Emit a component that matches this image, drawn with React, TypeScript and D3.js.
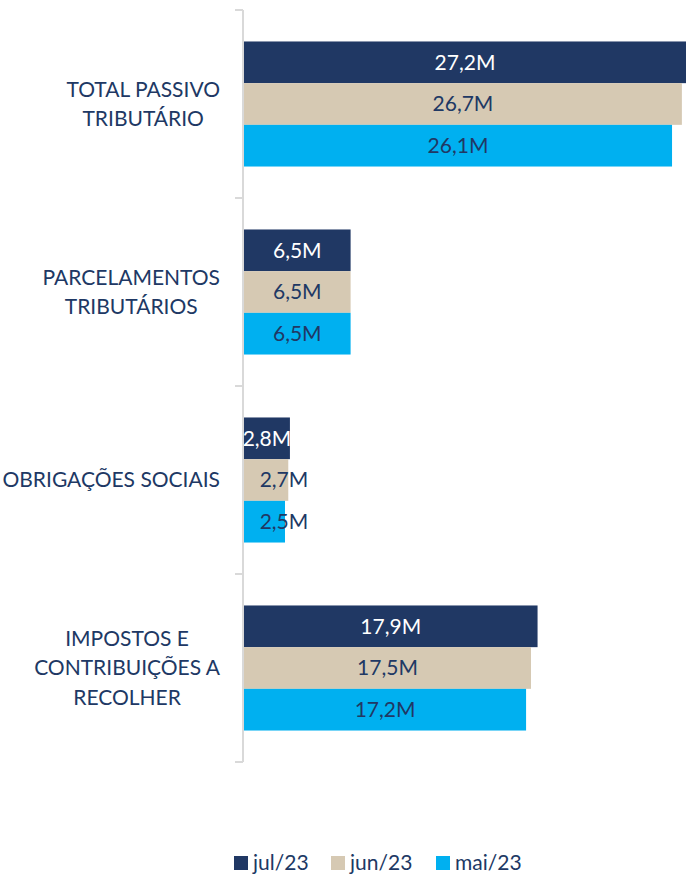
import React, { useEffect, useRef } from "react";
import * as d3 from "d3";

const categories: string[][] = [
  ["TOTAL PASSIVO", "TRIBUTÁRIO"],
  ["PARCELAMENTOS", "TRIBUTÁRIOS"],
  ["OBRIGAÇÕES SOCIAIS"],
  ["IMPOSTOS E", "CONTRIBUIÇÕES A", "RECOLHER"],
];
const seriesNames = ["jul/23", "jun/23", "mai/23"];
const jul = [27.2, 6.5, 2.8, 17.9];
const jun = [26.7, 6.5, 2.7, 17.5];
const mai = [26.1, 6.5, 2.5, 17.2];
const seriesValues = [jul, jun, mai];
const colors = ["#203864", "#d6c9b3", "#00b0f0"];
const labelColors = ["#ffffff", "#203864", "#203864"];

const W = 686;
const H = 875;
const FONT = "Lato, 'Open Sans', sans-serif";
const FS = 21;
const TEXT = "#203864";

export default function App() {
  const ref = useRef<SVGSVGElement | null>(null);
  useEffect(() => {
    document.body.style.margin = "0";
    const svg = d3.select(ref.current);
    svg.selectAll("*").remove();

    const keys = categories.map((c) => c.join(" "));
    const y = d3.scaleBand<string>().domain(keys).range([10, 762]).paddingInner(0).paddingOuter(0);
    const ySub = d3
      .scaleBand<number>()
      .domain([0, 1, 2])
      .range([0, y.bandwidth()])
      .paddingInner(0)
      .paddingOuter(0.755);
    const x = d3.scaleLinear().domain([0, 27.2]).range([244, 244 + 27.2 * 16.4]);

    const g = svg.append("g");

    seriesValues.forEach((vals, si) => {
      vals.forEach((v, ci) => {
        const y0 = (y(keys[ci]) as number) + (ySub(si) as number);
        g.append("rect")
          .attr("x", x(0))
          .attr("y", y0)
          .attr("width", x(v) - x(0))
          .attr("height", ySub.bandwidth())
          .attr("fill", colors[si]);
      });
    });

    seriesValues.forEach((vals, si) => {
      vals.forEach((v, ci) => {
        const y0 = (y(keys[ci]) as number) + (ySub(si) as number);
        const mid = (x(0) + Math.min(x(v), W)) / 2;
        const cx = si === 0 ? mid : Math.max(mid, x(0) + 40);
        g.append("text")
          .attr("x", cx)
          .attr("y", y0 + ySub.bandwidth() / 2)
          .attr("dy", "0.35em")
          .attr("text-anchor", "middle")
          .attr("fill", labelColors[si])
          .attr("font-family", FONT)
          .attr("font-size", FS)
          .text(v.toFixed(1).replace(".", ",") + "M");
      });
    });

    const axisColor = "#d9d9d9";
    g.append("line")
      .attr("x1", 243)
      .attr("x2", 243)
      .attr("y1", 10)
      .attr("y2", 762)
      .attr("stroke", axisColor)
      .attr("stroke-width", 2);
    const ticks = keys.map((k) => y(k) as number).concat([762]);
    ticks.forEach((t) => {
      g.append("line")
        .attr("x1", 235)
        .attr("x2", 243)
        .attr("y1", t)
        .attr("y2", t)
        .attr("stroke", axisColor)
        .attr("stroke-width", 2);
    });

    const lineH = 29.5;
    categories.forEach((lines, ci) => {
      const cy = (y(keys[ci]) as number) + y.bandwidth() / 2;
      const tg = g.append("g");
      const texts = lines.map((ln, li) =>
        tg
          .append("text")
          .attr("y", cy + (li - (lines.length - 1) / 2) * lineH)
          .attr("dy", "0.35em")
          .attr("text-anchor", "middle")
          .attr("fill", TEXT)
          .attr("font-family", FONT)
          .attr("font-size", FS)
          .text(ln)
      );
      const widths = texts.map((t) => (t.node() as SVGTextElement).getComputedTextLength());
      const maxW = Math.max(...widths);
      const center = 220 - maxW / 2;
      texts.forEach((t) => t.attr("x", center));
    });

    const legX = [234, 331, 436];
    seriesNames.forEach((name, si) => {
      g.append("rect")
        .attr("x", legX[si])
        .attr("y", 856)
        .attr("width", 14)
        .attr("height", 14)
        .attr("fill", colors[si]);
      g.append("text")
        .attr("x", legX[si] + 19)
        .attr("y", 863)
        .attr("dy", "0.35em")
        .attr("fill", TEXT)
        .attr("font-family", FONT)
        .attr("font-size", FS)
        .text(name);
    });
  }, []);

  return <svg ref={ref} width={W} height={H} style={{ display: "block" }} />;
}
